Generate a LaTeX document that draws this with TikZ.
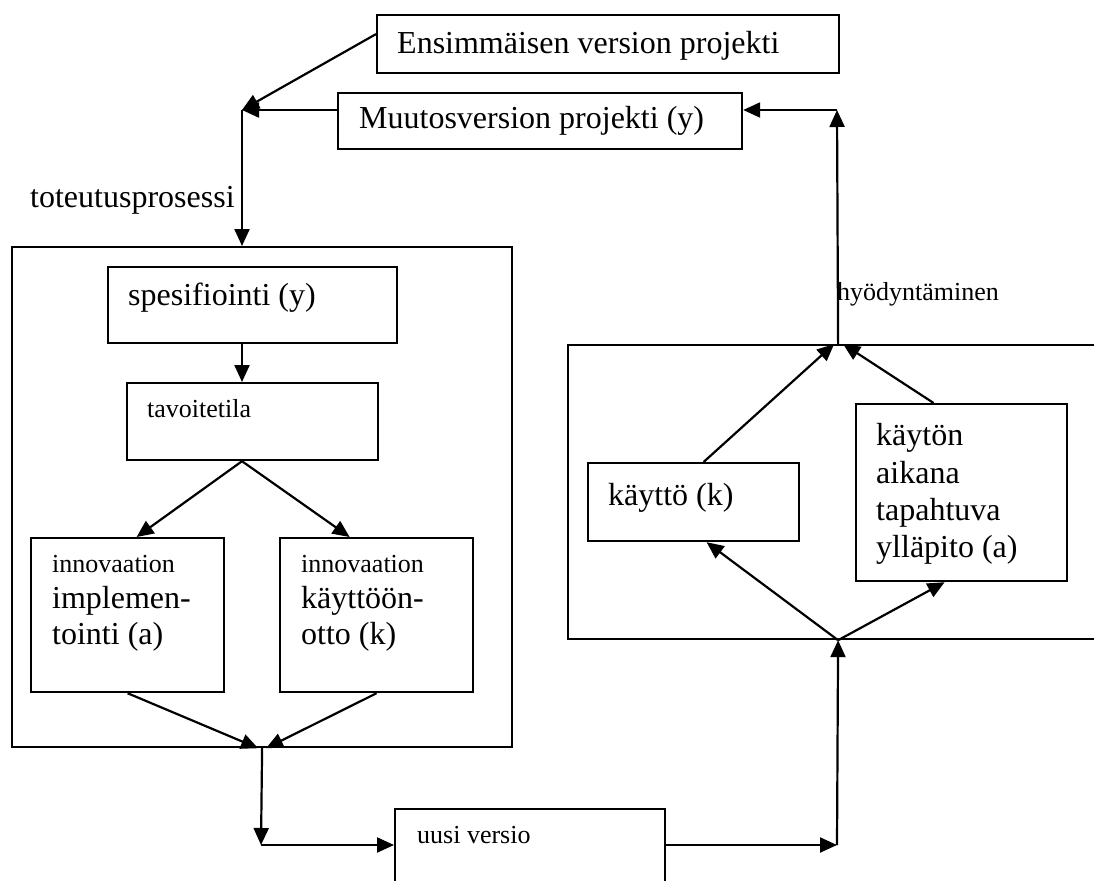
\documentclass[tikz,border=0pt]{standalone}
\usepackage{fontspec}
\setmainfont{Liberation Serif}
\usetikzlibrary{arrows.meta}
\begin{document}
\begin{tikzpicture}[x=1bp,y=-1bp,
  box/.style={draw, line width=2.2bp, rectangle, inner sep=0pt, anchor=north west},
  bigtxt/.style={font=\fontsize{32bp}{38bp}\selectfont, anchor=base west, inner sep=0pt},
  smalltxt/.style={font=\fontsize{26bp}{31bp}\selectfont, anchor=base west, inner sep=0pt},
  arr/.style={line width=2.2bp, -{Triangle[length=17bp,width=15bp]}}]
\useasboundingbox (0,0) rectangle (1094,881);
\clip (0,0) rectangle (1094,881);

% boxes
\node[box, minimum width=462bp, minimum height=58bp]  (ens)  at (376,14)  {};
\node[box, minimum width=404bp, minimum height=56bp]  (muu)  at (337,92)  {};
\node[box, minimum width=500bp, minimum height=500bp] (proc) at (11,246)  {};
\node[box, minimum width=289bp, minimum height=76bp]  (spec) at (107,266) {};
\node[box, minimum width=251bp, minimum height=77bp]  (tav)  at (126,382) {};
\node[box, minimum width=193bp, minimum height=154bp] (impl) at (30,537)  {};
\node[box, minimum width=193bp, minimum height=154bp] (kay)  at (279,537) {};
\node[box, minimum width=540bp, minimum height=294bp] (use)  at (567,344) {};
\node[box, minimum width=211bp, minimum height=78bp]  (kt)   at (587,462) {};
\node[box, minimum width=211bp, minimum height=177bp] (yp)   at (855,403) {};
\node[box, minimum width=270bp, minimum height=90bp]  (uusi) at (394,808) {};

% texts
\node[bigtxt]   (tens)  at (397,53)  {Ensimmäisen version projekti};
\node[bigtxt]   (tmuu)  at (359,128) {Muutosversion projekti (y)};
\node[bigtxt]   (ttot)  at (30,207)  {toteutusprosessi};
\node[bigtxt]   (tspec) at (128,305) {spesifiointi (y)};
\node[smalltxt] (ttav)  at (147,417) {tavoitetila};
\node[smalltxt] (timpa) at (52,572)  {innovaation};
\node[bigtxt]   (timpb) at (52,608)  {implemen-};
\node[bigtxt]   (timpc) at (52,644)  {tointi (a)};
\node[smalltxt] (tkaya) at (301,572) {innovaation};
\node[bigtxt]   (tkayb) at (301,608) {käyttöön-};
\node[bigtxt]   (tkayc) at (301,644) {otto (k)};
\node[smalltxt] (thyod) at (837,300) {hyödyntäminen};
\node[bigtxt]   (tkt)   at (608,505) {käyttö (k)};
\node[bigtxt]   (typa)  at (876,445) {käytön};
\node[bigtxt]   (typb)  at (876,483) {aikana};
\node[bigtxt]   (typc)  at (876,520) {tapahtuva};
\node[bigtxt]   (typd)  at (876,557) {ylläpito (a)};
\node[smalltxt] (tuusi) at (417,843) {uusi versio};

% junction points
\coordinate (j1) at (242,110);
\coordinate (j2) at (proc.south);
\coordinate (j3) at (261,845);
\coordinate (j4) at (837,845);
\coordinate (j5) at (use.south);
\coordinate (j6) at (use.north);
\coordinate (j7) at (837,110);

% connectors
\draw[arr] ([yshift=10bp]ens.west) -- (j1);
\draw[arr] (j1 -| muu.west) -- (j1);
\draw[arr] (j1) -- (j1 |- proc.north);
\draw[arr] (j1 |- spec.south) -- (j1 |- tav.north);
\draw[arr] (j1 |- tav.south) -- ([xshift=9bp]impl.north);
\draw[arr] (j1 |- tav.south) -- ([xshift=-27bp]kay.north);
\draw[arr] (impl.south) -- ([xshift=-4bp]j2);
\draw[arr] (kay.south) -- ([xshift=4bp]j2);
\draw[arr] (j2) -- (j3);
\draw[arr] (j3) -- (j3 -| uusi.west);
\draw[arr] (j3 -| uusi.east) -- (j4);
\draw[arr] (j4) -- (j5);
\draw[arr] (j5) -- ([xshift=13bp]kt.south);
\draw[arr] (j5) -- ([xshift=-17bp]yp.south);
\draw[arr] ([xshift=10bp]kt.north) -- ([xshift=-4bp]j6);
\draw[arr] ([xshift=-28bp]yp.north) -- ([xshift=5bp]j6);
\draw[arr] (j6) -- (j7);
\draw[arr] (j7) -- (j7 -| muu.east);
\end{tikzpicture}
\end{document}
